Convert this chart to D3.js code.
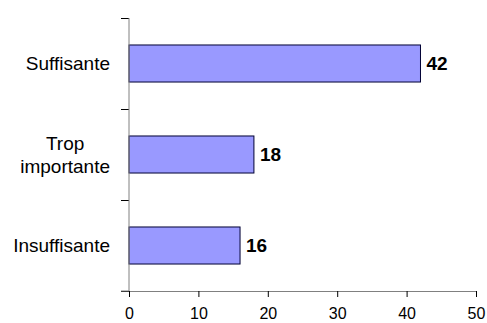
<!DOCTYPE html>
<html lang="fr">
<head>
    <meta charset="UTF-8">
    <title>Barres</title>
    <style>
        body { margin: 0; background: #fff; }
        text { font-family: "Liberation Sans", Arial, sans-serif; fill: #000; }
    </style>
    <script src="https://cdn.jsdelivr.net/npm/d3@7/dist/d3.min.js"></script>
</head>
<body>
<svg class="chart" width="487" height="323"></svg>
<script>
    // données
    const categories = ['Suffisante', 'Trop importante', 'Insuffisante'];
    const labelLines = [['Suffisante'], ['Trop', 'importante'], ['Insuffisante']];
    const values = [42, 18, 16];
    const xTicks = [0, 10, 20, 30, 40, 50];

    const svg = d3.select('.chart');

    // échelles
    let x = d3.scaleLinear().domain([0, 50]).range([129, 476]);
    let y = d3.scaleBand().domain(categories).range([18, 291])
        .paddingInner(0.593).paddingOuter(0.2965);
    // séparateurs entre catégories
    let ySep = d3.scaleLinear().domain([0, categories.length]).range([291, 18]);

    // axe Y (traits de séparation)
    let yAxis = d3.axisLeft(ySep)
        .tickValues(d3.range(categories.length + 1))
        .tickSize(8)
        .tickSizeOuter(0)
        .tickFormat('');
    let gy = svg.append('g')
        .attr('transform', 'translate(' + x(0) + ',0)')
        .call(yAxis);
    gy.select('.domain').remove();
    gy.selectAll('.tick line').attr('stroke', '#000');

    // barres
    svg.selectAll('rect.bar')
        .data(values).enter().append('rect')
        .attr('class', 'bar')
        .attr('x', x(0))
        .attr('y', (d, i) => y(categories[i]))
        .attr('width', d => x(d) - x(0))
        .attr('height', y.bandwidth())
        .attr('fill', '#9999ff')
        .attr('stroke', '#000033')
        .attr('stroke-width', 1);

    // valeurs
    svg.selectAll('text.val')
        .data(values).enter().append('text')
        .attr('class', 'val')
        .attr('x', d => x(d) + 6)
        .attr('y', (d, i) => y(categories[i]) + y.bandwidth() / 2)
        .attr('dy', '0.36em')
        .style('font-size', '19px')
        .style('font-weight', 'bold')
        .text(d => d);

    // axe X
    let xAxis = d3.axisBottom(x).tickValues(xTicks).tickSize(6).tickSizeOuter(0).tickPadding(11);
    let gx = svg.append('g')
        .attr('transform', 'translate(0,291)')
        .call(xAxis);
    gx.select('.domain').attr('stroke', '#808080');
    gx.selectAll('.tick line').attr('stroke', '#000');
    gx.selectAll('.tick text').style('font-size', '16px').attr('font-family', null);

    // ligne verticale de l'axe Y
    svg.append('line')
        .attr('x1', x(0)).attr('x2', x(0))
        .attr('y1', ySep(categories.length)).attr('y2', ySep(0))
        .attr('stroke', '#808080');
    svg.append('line')
        .attr('x1', x(0) - 8).attr('x2', x(0))
        .attr('y1', ySep(0)).attr('y2', ySep(0))
        .attr('stroke', '#808080');

    // libellés des catégories (bloc aligné à droite, lignes centrées)
    const labelRight = 110;
    let labels = svg.selectAll('text.cat')
        .data(labelLines).enter().append('text')
        .attr('class', 'cat')
        .attr('text-anchor', 'middle')
        .attr('y', (d, i) => y(categories[i]) + y.bandwidth() / 2)
        .style('font-size', '19px');
    labels.selectAll('tspan')
        .data(d => d.map((t, j) => ({t: t, j: j, n: d.length})))
        .enter().append('tspan')
        .attr('dy', d => d.j === 0 ? (0.36 - (d.n - 1) * 0.6) + 'em' : '1.2em')
        .text(d => d.t);
    labels.each(function () {
        let spans = d3.select(this).selectAll('tspan');
        let w = d3.max(spans.nodes(), n => n.getComputedTextLength());
        spans.attr('x', labelRight - w / 2);
    });
</script>
</body>
</html>
